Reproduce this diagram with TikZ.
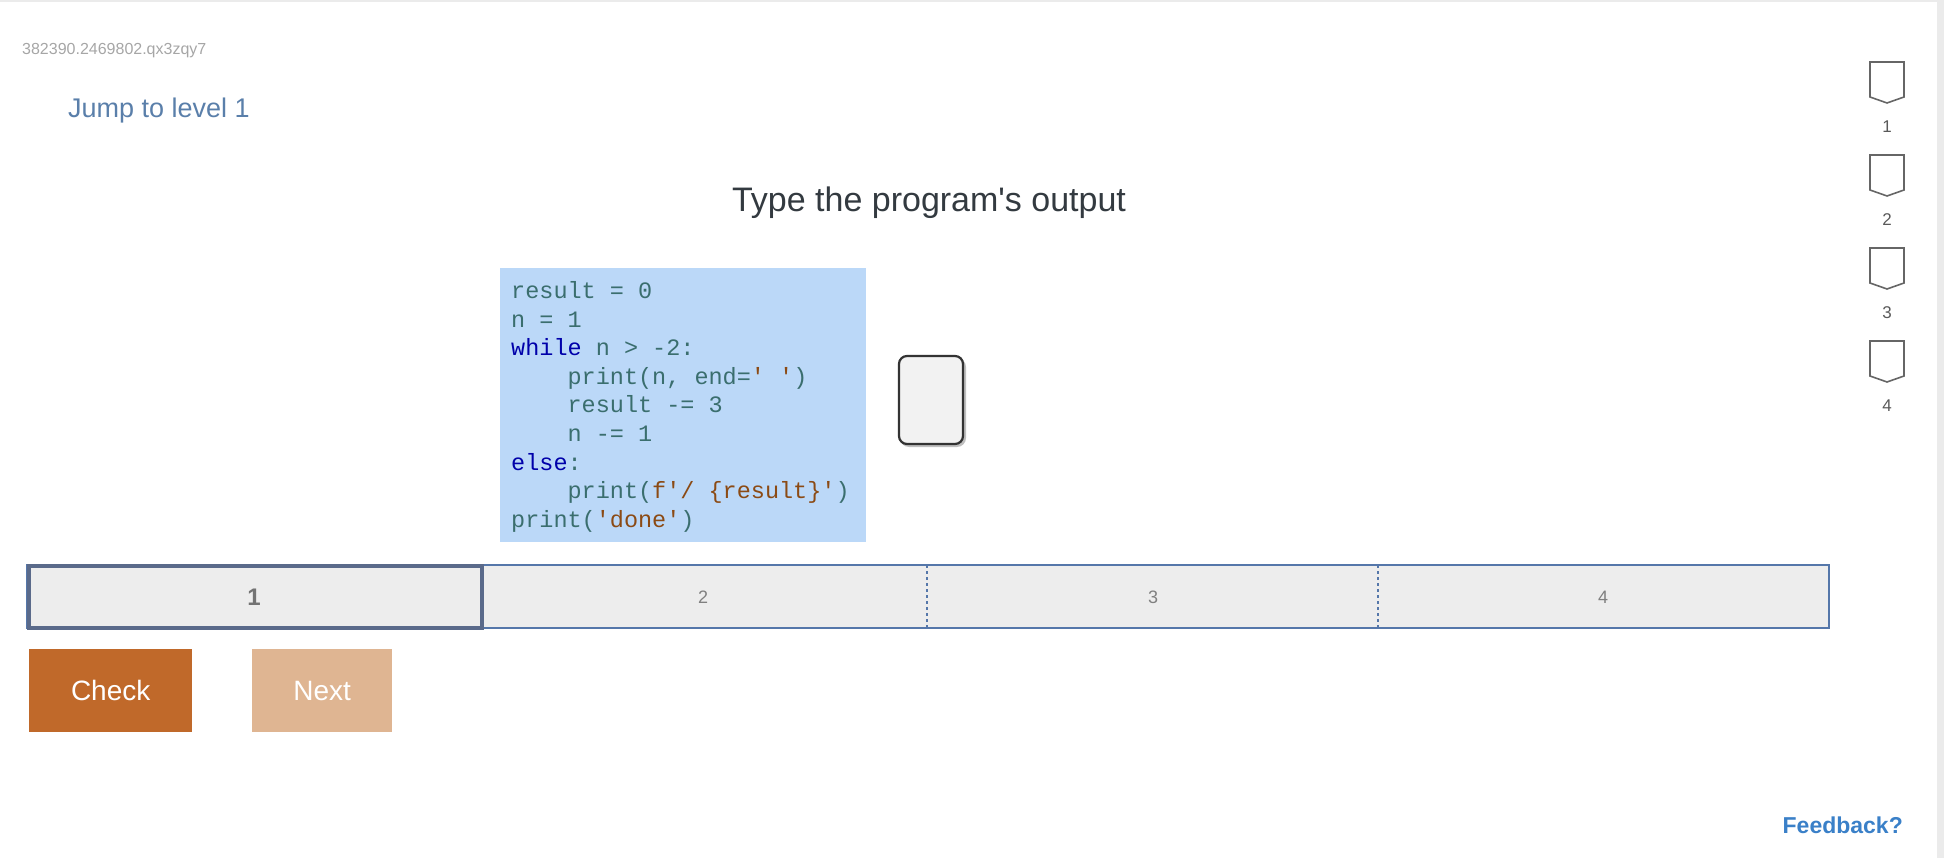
\documentclass[tikz,border=0pt]{standalone}
\usepackage{fontspec}
\setmainfont{Liberation Sans}
\newfontfamily\titlefont{Liberation Sans}
\newfontfamily\codefont{Liberation Mono}
\definecolor{kw}{HTML}{0000AA}
\definecolor{cd}{HTML}{3A6E6E}
\definecolor{st}{HTML}{8B4A14}
\definecolor{codebg}{HTML}{BBD8F8}
\definecolor{jump}{HTML}{5A7FAA}
\definecolor{ttl}{HTML}{333A40}
\definecolor{barb}{HTML}{5577AA}
\definecolor{segb}{HTML}{5A6A8A}
\definecolor{chk}{HTML}{C0692A}
\definecolor{nxt}{HTML}{DFB592}
\definecolor{fb}{HTML}{3A80C8}
\definecolor{edge}{HTML}{EBEBEB}
\tikzset{
 codeline/.style={anchor=base west,inner sep=0,font=\codefont\fontsize{23.5}{28}\selectfont,text=cd},
 seglabel/.style={font=\fontsize{18}{20}\selectfont,text=gray},
 btn/.style={anchor=north west,minimum width=#1,minimum height=83,inner sep=0,text=white,font=\fontsize{28}{30}\selectfont},
 shieldnum/.style={font=\fontsize{17}{19}\selectfont,text=black!65}
}
\begin{document}
\begin{tikzpicture}[x=1pt,y=-1pt]
\useasboundingbox (0,0) rectangle (1944,858);
\fill[edge] (0,0) rectangle (1944,2);
\fill[edge] (1937,0) rectangle (1944,858);
\node[anchor=base west,inner sep=0,font=\fontsize{16}{18}\selectfont,text=black!35] (id) at (22,55) {382390.2469802.qx3zqy7};
\node[anchor=base west,inner sep=0,font=\fontsize{27}{30}\selectfont,text=jump] (jump) at (68,118) {Jump to level 1};
\node[anchor=base,inner sep=0,font=\titlefont\fontsize{34}{38}\selectfont,text=ttl] (title) at (929,212) {Type the program's output};
% code
\fill[codebg] (500,268) rectangle (866,542);
\node[codeline] (l1) at (511,299) {result = 0};
\node[codeline] (l2) at (511,327.5) {n = 1};
\node[codeline] (l3) at (511,356) {\textcolor{kw}{while} n > -2:};
\node[codeline] (l4) at (511,384.5) {\ \ \ \ print(n, end=\textcolor{st}{' '})};
\node[codeline] (l5) at (511,413) {\ \ \ \ result -= 3};
\node[codeline] (l6) at (511,441.5) {\ \ \ \ n -= 1};
\node[codeline] (l7) at (511,470) {\textcolor{kw}{else}:};
\node[codeline] (l8) at (511,498.5) {\ \ \ \ print(\textcolor{st}{f'/ \{result\}'})};
\node[codeline] (l9) at (511,527) {print(\textcolor{st}{'done'})};
% answer box
\fill[black!25,rounded corners=9] (900,358) rectangle (966,447);
\draw[black!80,line width=2.2,fill=black!5,rounded corners=8] (899,356) rectangle (963,444);
% progress bar
\draw[barb,line width=1.5,fill=black!7] (27,565) rectangle (1829,628);
\draw[barb,dashed,line width=1.2] (927,565) -- (927,628);
\draw[barb,dashed,line width=1.2] (1378,565) -- (1378,628);
\draw[segb,line width=4] (29,566) rectangle (482,628);
\node[font=\bfseries\fontsize{24}{26}\selectfont,text=black!55] (s1) at (254,597) {1};
\node[seglabel] (s2) at (703,597) {2};
\node[seglabel] (s3) at (1153,597) {3};
\node[seglabel] (s4) at (1603,597) {4};
% buttons
\node[btn=163,fill=chk] (check) at (29,649) {Check};
\node[btn=140,fill=nxt] (next) at (252,649) {Next};
% shields
\foreach \i in {0,1,2,3}{
 \draw[black!60,line width=1.6] (1870,62+93*\i) -- (1904,62+93*\i) -- (1904,97+93*\i) -- (1887,103+93*\i) -- (1870,97+93*\i) -- cycle;
 \pgfmathtruncatemacro\k{\i+1}
 \node[shieldnum] (n\k) at (1887,127+93*\i) {\k};
}
\node[anchor=base east,inner sep=0,font=\bfseries\fontsize{23}{25}\selectfont,text=fb] (feedback) at (1903,833) {Feedback?};
\end{tikzpicture}
\end{document}
